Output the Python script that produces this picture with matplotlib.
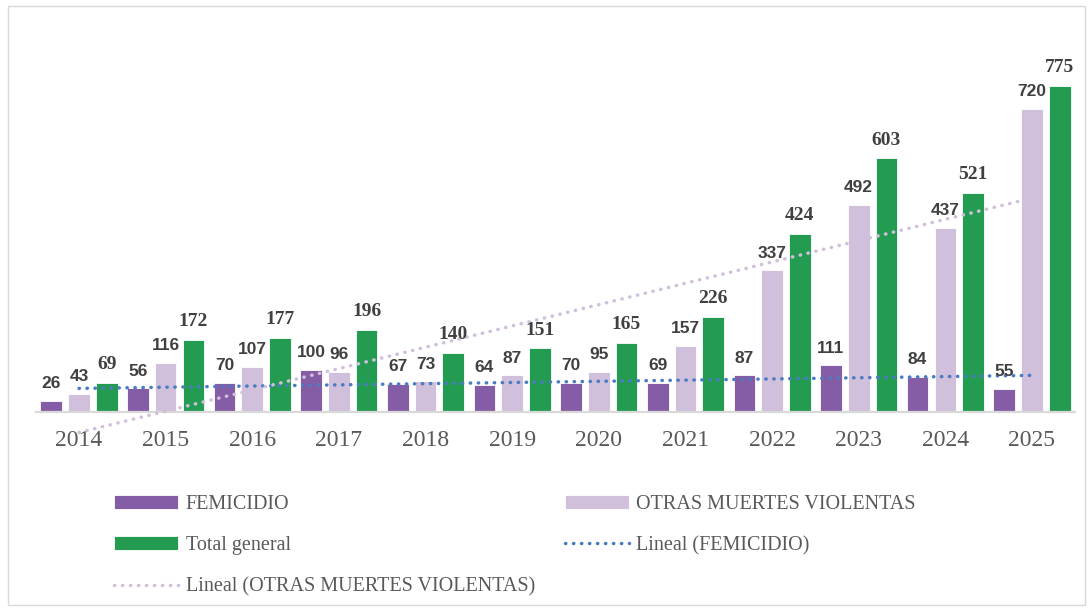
import numpy as np
import matplotlib
matplotlib.use("Agg")
import matplotlib.pyplot as plt
from matplotlib.patches import Rectangle

years = ["2014", "2015", "2016", "2017", "2018", "2019",
         "2020", "2021", "2022", "2023", "2024", "2025"]
femicidio = [26, 56, 70, 100, 67, 64, 70, 69, 87, 111, 84, 55]
otras = [43, 116, 107, 96, 73, 87, 95, 157, 337, 492, 437, 720]
total = [69, 172, 177, 196, 140, 151, 165, 226, 424, 603, 521, 775]

c_fem = "#855CA6"
c_otras = "#D0C0DC"
c_total = "#239C52"
c_trend_fem = "#4A7CC4"
txt = "#404040"
tick_col = "#595959"

fig = plt.figure(figsize=(10.89, 6.11), dpi=100)
ax = fig.add_axes([0.0328, 0.3257, 0.9546, 0.6195])

x = np.arange(len(years))
w = 0.25
off = 0.32

b1 = ax.bar(x - off, femicidio, w, color=c_fem, edgecolor="white", linewidth=0.6, label="FEMICIDIO")
b2 = ax.bar(x, otras, w, color=c_otras, edgecolor="white", linewidth=0.6, label="OTRAS MUERTES VIOLENTAS")
b3 = ax.bar(x + off, total, w, color=c_total, edgecolor="white", linewidth=0.6, label="Total general")

# linear trendlines (least squares fit, like Excel)
p_fem = np.polyfit(x, femicidio, 1)
p_otr = np.polyfit(x, otras, 1)
dots = (0, (0.1, 2.2))
l1, = ax.plot(x, np.polyval(p_fem, x), color=c_trend_fem, lw=2.5, ls=dots,
              dash_capstyle="round", clip_on=False, zorder=4, label="Lineal (FEMICIDIO)")
l2, = ax.plot(x, np.polyval(p_otr, x), color=c_otras, lw=2.5, ls=dots,
              dash_capstyle="round", clip_on=False, zorder=4,
              label="Lineal (OTRAS MUERTES VIOLENTAS)")

# value labels
for xi, v in zip(x - off, femicidio):
    ax.annotate(str(v), (xi, v), xytext=(0, 7), textcoords="offset points",
                ha="center", va="bottom", fontsize=12.5, fontweight="bold",
                family="Liberation Sans", color=txt, zorder=5)
for xi, v in zip(x, otras):
    ax.annotate(str(v), (xi, v), xytext=(0, 7), textcoords="offset points",
                ha="center", va="bottom", fontsize=12.5, fontweight="bold",
                family="Liberation Sans", color=txt, zorder=5)
for xi, v in zip(x + off, total):
    ax.annotate(str(v), (xi, v), xytext=(0, 7), textcoords="offset points",
                ha="center", va="bottom", fontsize=14, fontweight="bold",
                family="Liberation Serif", color=txt, zorder=5)

ax.set_xlim(-0.5, len(years) - 0.5)
ax.set_ylim(0, 900)
ax.set_xticks(x)
ax.set_xticklabels(years, family="Liberation Serif", fontsize=17, color=tick_col)
ax.tick_params(axis="x", length=0, pad=13)
ax.set_yticks([])
for s in ["top", "right", "left"]:
    ax.spines[s].set_visible(False)
ax.spines["bottom"].set_color("#D9D9D9")
ax.spines["bottom"].set_linewidth(1.6)

handles = [b1, b3, l2, b2, l1]
labels = [h.get_label() for h in handles]
leg = fig.legend(handles, labels, loc="upper left", bbox_to_anchor=(0.1047, 0.19),
                 ncol=2, frameon=False, borderpad=0, borderaxespad=0,
                 handlelength=3.2, handleheight=0.7, handletextpad=0.35,
                 labelspacing=1.1, columnspacing=1.5,
                 prop={"family": "Liberation Serif", "size": 14.5})
for t in leg.get_texts():
    t.set_color(tick_col)

# chart area border
fig.patches.append(Rectangle((8 / 1089, 6 / 611), 1077 / 1089, 599 / 611,
                             transform=fig.transFigure, fill=False,
                             edgecolor="#D9D9D9", linewidth=1.0))

fig.savefig("out.png", dpi=100)
